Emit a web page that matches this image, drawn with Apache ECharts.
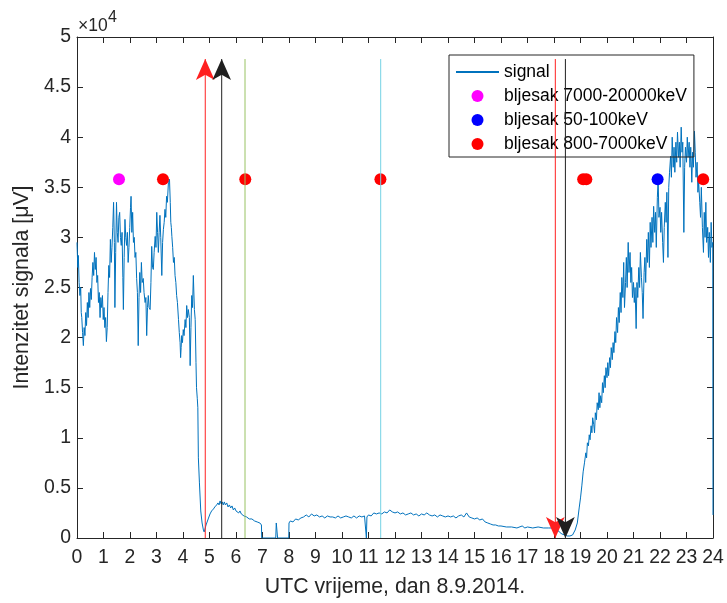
<!DOCTYPE html>
<html>
<head>
<meta charset="utf-8">
<script src="https://cdn.jsdelivr.net/npm/echarts@6/dist/echarts.min.js"></script>
<style>
html,body{margin:0;padding:0;background:#fff;}
#chart{width:727px;height:603px;}
</style>
</head>
<body>
<div id="chart"></div>
<script>
// ---- DATA (y values in units of 10^4 µV) ----
const yExponent = 4;
const xTickLabels = ['0','1','2','3','4','5','6','7','8','9','10','11','12','13','14','15','16','17','18','19','20','21','22','23','24'];
const yTickLabels = ['0','0.5','1','1.5','2','2.5','3','3.5','4','4.5','5'];

// signal: [UTC hour, intensity ×10^4]
const signal = [
[0.00,2.95],[0.03,2.70],[0.05,2.82],[0.08,2.55],[0.11,2.42],[0.14,2.50],[0.16,2.25],[0.18,2.20],[0.21,2.05],[0.24,1.92],
[0.27,2.10],[0.30,2.02],[0.33,2.25],[0.36,2.12],[0.39,2.35],[0.42,2.20],[0.45,2.45],[0.48,2.30],[0.51,2.49],[0.54,2.38],
[0.57,2.60],[0.60,2.75],[0.63,2.62],[0.66,2.85],[0.69,2.68],[0.72,2.80],[0.75,2.55],[0.78,2.62],[0.81,2.35],[0.84,2.45],
[0.87,2.20],[0.90,2.40],[0.93,2.30],[0.96,2.42],[0.99,2.18],[1.02,2.30],[1.05,2.10],[1.08,2.20],[1.11,1.96],[1.14,2.10],
[1.17,2.45],[1.20,2.72],[1.23,2.60],[1.26,2.98],[1.29,2.75],[1.32,2.90],[1.35,3.10],[1.38,3.35],[1.41,2.95],[1.43,2.30],
[1.46,2.85],[1.49,3.35],[1.52,3.05],[1.55,2.95],[1.58,3.20],[1.61,3.25],[1.64,3.00],[1.67,2.92],[1.70,3.05],[1.73,2.60],
[1.75,2.28],[1.78,2.80],[1.81,3.18],[1.84,3.00],[1.87,2.92],[1.90,3.05],[1.93,2.75],[1.96,2.90],[1.99,3.10],[2.02,3.30],
[2.04,3.41],[2.07,3.05],[2.10,3.25],[2.13,2.95],[2.16,3.00],[2.19,2.80],[2.22,2.85],[2.25,2.59],[2.28,2.45],[2.31,1.92],
[2.34,2.40],[2.37,2.65],[2.40,2.45],[2.43,2.75],[2.46,2.55],[2.50,2.59],[2.53,2.45],[2.57,2.35],[2.60,2.40],[2.63,2.02],
[2.66,2.30],[2.69,2.42],[2.72,2.30],[2.76,2.28],[2.79,2.55],[2.82,2.91],[2.85,2.70],[2.88,2.68],[2.91,2.85],[2.95,3.01],
[2.98,2.90],[3.01,3.25],[3.04,3.05],[3.07,2.85],[3.10,3.05],[3.13,3.22],[3.16,3.00],[3.20,2.62],[3.23,2.95],[3.26,3.08],
[3.29,3.15],[3.32,3.28],[3.35,3.20],[3.38,3.41],[3.41,3.35],[3.45,3.55],[3.49,3.58],[3.52,3.35],[3.54,3.15],[3.56,3.10],
[3.58,3.01],[3.61,2.90],[3.64,2.75],[3.67,2.80],[3.70,2.62],[3.73,2.55],[3.76,2.42],[3.79,2.35],[3.83,2.18],[3.86,2.05],
[3.89,1.95],[3.91,1.80],[3.93,1.90],[3.95,2.02],[3.98,1.95],[4.01,2.08],[4.04,2.02],[4.08,2.18],[4.11,2.10],[4.14,2.32],
[4.17,2.20],[4.20,2.28],[4.24,2.20],[4.27,1.72],[4.30,2.10],[4.33,2.42],[4.36,2.30],[4.39,2.62],[4.43,2.28],[4.46,2.18],
[4.49,1.75],[4.51,1.50],[4.54,1.39],[4.56,1.30],[4.58,0.80],[4.62,0.55],[4.67,0.27],[4.72,0.15],[4.77,0.08],[4.80,0.06],
[4.84,0.10],[4.87,0.13],[4.95,0.19],[5.02,0.24],[5.08,0.27],[5.15,0.29],[5.20,0.31],[5.27,0.33],[5.32,0.35],[5.36,0.33],
[5.40,0.37],[5.44,0.34],[5.48,0.36],[5.52,0.33],[5.56,0.36],[5.60,0.33],[5.65,0.35],[5.70,0.31],[5.75,0.33],[5.80,0.30],
[5.85,0.32],[5.90,0.28],[5.95,0.30],[6.00,0.27],[6.05,0.28],[6.10,0.25],[6.15,0.27],[6.20,0.24],[6.25,0.25],[6.30,0.22],
[6.35,0.23],[6.40,0.21],[6.45,0.21],[6.50,0.19],[6.60,0.19],[6.70,0.17],[6.80,0.16],[6.90,0.15],[6.96,0.13],[6.97,0.00],
[7.50,0.00],[7.52,0.15],[7.55,0.16],[7.57,0.00],[7.99,0.00],[8.00,0.15],[8.05,0.17],[8.15,0.16],[8.25,0.19],[8.35,0.18],
[8.45,0.20],[8.55,0.21],[8.65,0.23],[8.75,0.21],[8.85,0.24],[8.95,0.22],[9.05,0.23],[9.15,0.21],[9.25,0.22],[9.35,0.20],
[9.45,0.22],[9.55,0.21],[9.65,0.21],[9.75,0.20],[9.85,0.22],[9.95,0.20],[10.05,0.21],[10.15,0.22],[10.25,0.21],[10.35,0.20],
[10.45,0.22],[10.55,0.20],[10.65,0.22],[10.75,0.21],[10.85,0.22],[10.90,0.21],[10.92,0.00],[10.94,0.21],[11.00,0.23],[11.10,0.22],
[11.20,0.25],[11.30,0.24],[11.40,0.25],[11.50,0.24],[11.60,0.26],[11.70,0.25],[11.80,0.28],[11.90,0.26],[12.00,0.25],[12.10,0.26],
[12.20,0.24],[12.30,0.25],[12.40,0.23],[12.50,0.24],[12.60,0.25],[12.70,0.23],[12.80,0.24],[12.90,0.22],[13.00,0.24],[13.10,0.23],
[13.20,0.25],[13.30,0.23],[13.40,0.22],[13.50,0.23],[13.60,0.21],[13.70,0.23],[13.80,0.22],[13.90,0.21],[14.00,0.22],[14.10,0.21],
[14.20,0.22],[14.30,0.20],[14.40,0.22],[14.50,0.23],[14.60,0.21],[14.70,0.25],[14.80,0.21],[14.90,0.20],[15.00,0.19],[15.10,0.20],
[15.20,0.18],[15.30,0.19],[15.40,0.16],[15.50,0.15],[15.60,0.14],[15.70,0.13],[15.80,0.13],[15.90,0.12],[16.00,0.12],[16.20,0.11],
[16.40,0.11],[16.60,0.10],[16.80,0.12],[16.90,0.10],[17.00,0.11],[17.20,0.10],[17.40,0.11],[17.60,0.10],[17.80,0.10],[18.00,0.10],
[18.10,0.09],[18.20,0.06],[18.30,0.04],[18.40,0.03],[18.50,0.02],[18.60,0.02],[18.70,0.03],[18.80,0.08],[18.88,0.15],[18.95,0.30],
[19.00,0.40],[19.05,0.52],[19.10,0.66],[19.15,0.75],[19.20,0.85],[19.23,0.80],[19.26,0.95],[19.30,0.92],[19.33,1.03],[19.36,0.98],
[19.40,1.12],[19.43,1.05],[19.46,1.20],[19.50,1.13],[19.53,1.05],[19.56,1.25],[19.60,1.18],[19.63,1.35],[19.67,1.28],[19.70,1.45],
[19.73,1.30],[19.76,1.42],[19.80,1.35],[19.83,1.55],[19.86,1.45],[19.90,1.62],[19.93,1.50],[19.96,1.70],[20.00,1.60],[20.03,1.75],
[20.06,1.62],[20.10,1.80],[20.13,1.70],[20.16,1.90],[20.20,1.78],[20.23,1.95],[20.26,1.85],[20.30,2.06],[20.33,1.95],[20.36,2.20],
[20.40,2.05],[20.43,2.30],[20.46,2.15],[20.50,2.45],[20.53,2.25],[20.56,2.60],[20.60,2.40],[20.63,2.75],[20.66,2.30],[20.70,2.55],
[20.73,2.80],[20.76,2.50],[20.80,2.95],[20.83,2.65],[20.87,2.85],[20.90,2.55],[20.93,2.70],[20.96,2.40],[21.00,2.55],[21.03,2.35],
[21.06,2.50],[21.10,2.09],[21.13,2.55],[21.16,2.40],[21.20,2.70],[21.23,2.50],[21.26,2.85],[21.30,2.60],[21.33,2.45],[21.36,2.19],
[21.40,2.65],[21.43,2.80],[21.46,2.55],[21.50,2.98],[21.53,2.75],[21.56,3.05],[21.60,2.70],[21.63,3.15],[21.66,2.90],[21.70,3.20],
[21.73,2.95],[21.76,3.31],[21.80,3.05],[21.83,3.25],[21.86,2.90],[21.90,3.40],[21.93,3.58],[21.96,3.20],[22.00,3.30],[22.03,3.05],
[22.06,3.25],[22.10,2.95],[22.13,2.75],[22.16,3.10],[22.20,3.35],[22.23,3.15],[22.26,3.45],[22.30,2.80],[22.33,3.50],[22.36,3.65],
[22.40,3.81],[22.43,3.60],[22.46,4.00],[22.50,3.70],[22.53,3.90],[22.56,3.65],[22.60,3.95],[22.63,3.75],[22.66,4.05],[22.70,3.80],
[22.73,3.95],[22.76,3.70],[22.80,4.10],[22.83,3.85],[22.86,3.95],[22.90,3.05],[22.93,3.70],[22.96,3.90],[23.00,3.75],[23.03,4.00],
[23.06,3.80],[23.10,3.95],[23.13,3.70],[23.16,3.90],[23.20,3.55],[23.23,3.85],[23.26,3.70],[23.30,4.06],[23.33,3.85],[23.36,3.60],
[23.40,3.75],[23.43,3.45],[23.46,3.55],[23.50,3.35],[23.53,3.20],[23.56,3.50],[23.60,3.10],[23.64,2.85],[23.67,3.25],[23.70,3.00],
[23.73,3.35],[23.76,2.95],[23.80,3.10],[23.83,2.80],[23.86,3.05],[23.90,2.75],[23.93,3.15],[23.96,2.90],[23.99,2.95],[24.00,0.23]
];

// flash detections (UTC hour, marker level ×10^4)
const flash7000_20000 = [[1.585,3.58]];
const flash50_100 = [[21.91,3.58]];
const flash800_7000 = [[3.245,3.58],[6.35,3.58],[11.45,3.58],[19.10,3.58],[19.22,3.58],[23.63,3.58]];

// event lines (UTC hours)
const upArrowTimes = [4.84, 5.46];     // red, black (arrow at top)
const plainLineTimes = [6.34, 11.46];  // green, cyan
const downArrowTimes = [18.05, 18.43]; // red, black (arrow at bottom)
const eventLineTop = 4.78;
const eventLineBottom = 0;

// ---- STYLES ----
const txt = '#262626';
const font = '"Liberation Sans", Arial, Helvetica, sans-serif';
const upColors = ['#ff2020', '#202020'];
const plainColors = ['#98c262', '#74d2e4'];
const downColors = ['#ff2020', '#202020'];
const arrowW = 14, arrowH = 21;

function vLine(t, color) {
  return {
    type: 'line', data: [[t, eventLineBottom], [t, eventLineTop]],
    symbol: 'none', silent: true, z: 4,
    lineStyle: {color: color, width: 1, type: 'solid'},
    itemStyle: {color: color}
  };
}
function arrowHead(t, tipY, color, down) {
  return {
    type: 'scatter', data: [[t, tipY]], silent: true, z: 5,
    symbol: 'arrow', symbolSize: [arrowW, arrowH],
    symbolRotate: down ? 180 : 0,
    itemStyle: {color: color, opacity: 1}
  };
}

const eventSeriesList = [];
upArrowTimes.forEach((t, i) => {
  eventSeriesList.push(vLine(t, upColors[i]));
  eventSeriesList.push(arrowHead(t, eventLineTop, upColors[i], false));
});
plainLineTimes.forEach((t, i) => eventSeriesList.push(vLine(t, plainColors[i])));
downArrowTimes.forEach((t, i) => {
  eventSeriesList.push(vLine(t, downColors[i]));
  eventSeriesList.push(arrowHead(t, eventLineBottom, downColors[i], true));
});

const chart = echarts.init(document.getElementById('chart'), null, {renderer: 'canvas'});

const axisCommonX = {
  type: 'value', min: 0, max: 24, interval: 1,
  axisLine: {show: true, onZero: false, lineStyle: {color: txt, width: 1}},
  axisTick: {show: true, inside: true, length: 6, lineStyle: {color: txt}},
  splitLine: {show: false}
};
const axisCommonY = {
  type: 'value', min: 0, max: 5, interval: 0.5,
  axisLine: {show: true, onZero: false, lineStyle: {color: txt, width: 1}},
  axisTick: {show: true, inside: true, length: 6, lineStyle: {color: txt}},
  splitLine: {show: false}
};

chart.setOption({
  animation: false,
  backgroundColor: '#fff',
  textStyle: {fontFamily: font},
  grid: {left: 77, right: 14, top: 37, bottom: 63, containLabel: false},
  xAxis: [
    Object.assign({}, axisCommonX, {
      position: 'bottom',
      axisLabel: {show: true, color: txt, fontSize: 19.4, fontFamily: font, margin: 10,
        formatter: (v) => xTickLabels[Math.round(v)] ?? ''},
      name: 'UTC vrijeme, dan 8.9.2014.', nameLocation: 'middle', nameGap: 39,
      nameTextStyle: {color: txt, fontSize: 21.3, fontFamily: font}
    }),
    Object.assign({}, axisCommonX, {position: 'top', axisLabel: {show: false}})
  ],
  yAxis: [
    Object.assign({}, axisCommonY, {
      position: 'left',
      axisLabel: {show: true, color: txt, fontSize: 19.4, fontFamily: font, margin: 6,
        formatter: (v) => yTickLabels[Math.round(v * 2)] ?? ''},
      name: 'Intenzitet signala [μV]', nameLocation: 'middle', nameGap: 44, nameRotate: 90,
      nameTextStyle: {color: txt, fontSize: 21.3, fontFamily: font}
    }),
    Object.assign({}, axisCommonY, {position: 'right', axisLabel: {show: false}})
  ],
  legend: {
    show: true,
    orient: 'vertical',
    left: 449, top: 55,
    data: [
      {name: 'signal', itemStyle: {opacity: 0}},
      'bljesak 7000-20000keV', 'bljesak 50-100keV', 'bljesak 800-7000keV'
    ],
    itemWidth: 43, itemHeight: 12, itemGap: 6,
    padding: [8, 7, 4, 6],
    borderColor: txt, borderWidth: 1, borderRadius: 0,
    backgroundColor: 'transparent',
    textStyle: {color: '#000', fontSize: 17.5, fontFamily: font},
    selectedMode: false
  },
  graphic: [
    {type: 'text', left: 78, top: 17, silent: true,
      style: {text: '×10', fill: txt, font: '17.5px ' + font}},
    {type: 'text', left: 108, top: 10, silent: true,
      style: {text: String(yExponent), fill: txt, font: '16px ' + font}}
  ],
  series: [
    {
      name: 'signal', type: 'line', data: signal, symbol: 'none',
      lineStyle: {color: '#0072BD', width: 1}, itemStyle: {color: '#0072BD'},
      xAxisIndex: 0, yAxisIndex: 0, z: 2, silent: true
    },
    {
      name: 'bljesak 7000-20000keV', type: 'scatter', data: flash7000_20000,
      symbol: 'circle', symbolSize: 12, itemStyle: {color: '#ff00ff', opacity: 1}, z: 3, silent: true
    },
    {
      name: 'bljesak 50-100keV', type: 'scatter', data: flash50_100,
      symbol: 'circle', symbolSize: 12, itemStyle: {color: '#0000ff', opacity: 1}, z: 3, silent: true
    },
    {
      name: 'bljesak 800-7000keV', type: 'scatter', data: flash800_7000,
      symbol: 'circle', symbolSize: 12, itemStyle: {color: '#ff0000', opacity: 1}, z: 3, silent: true
    }
  ].concat(eventSeriesList)
});
</script>
</body>
</html>
